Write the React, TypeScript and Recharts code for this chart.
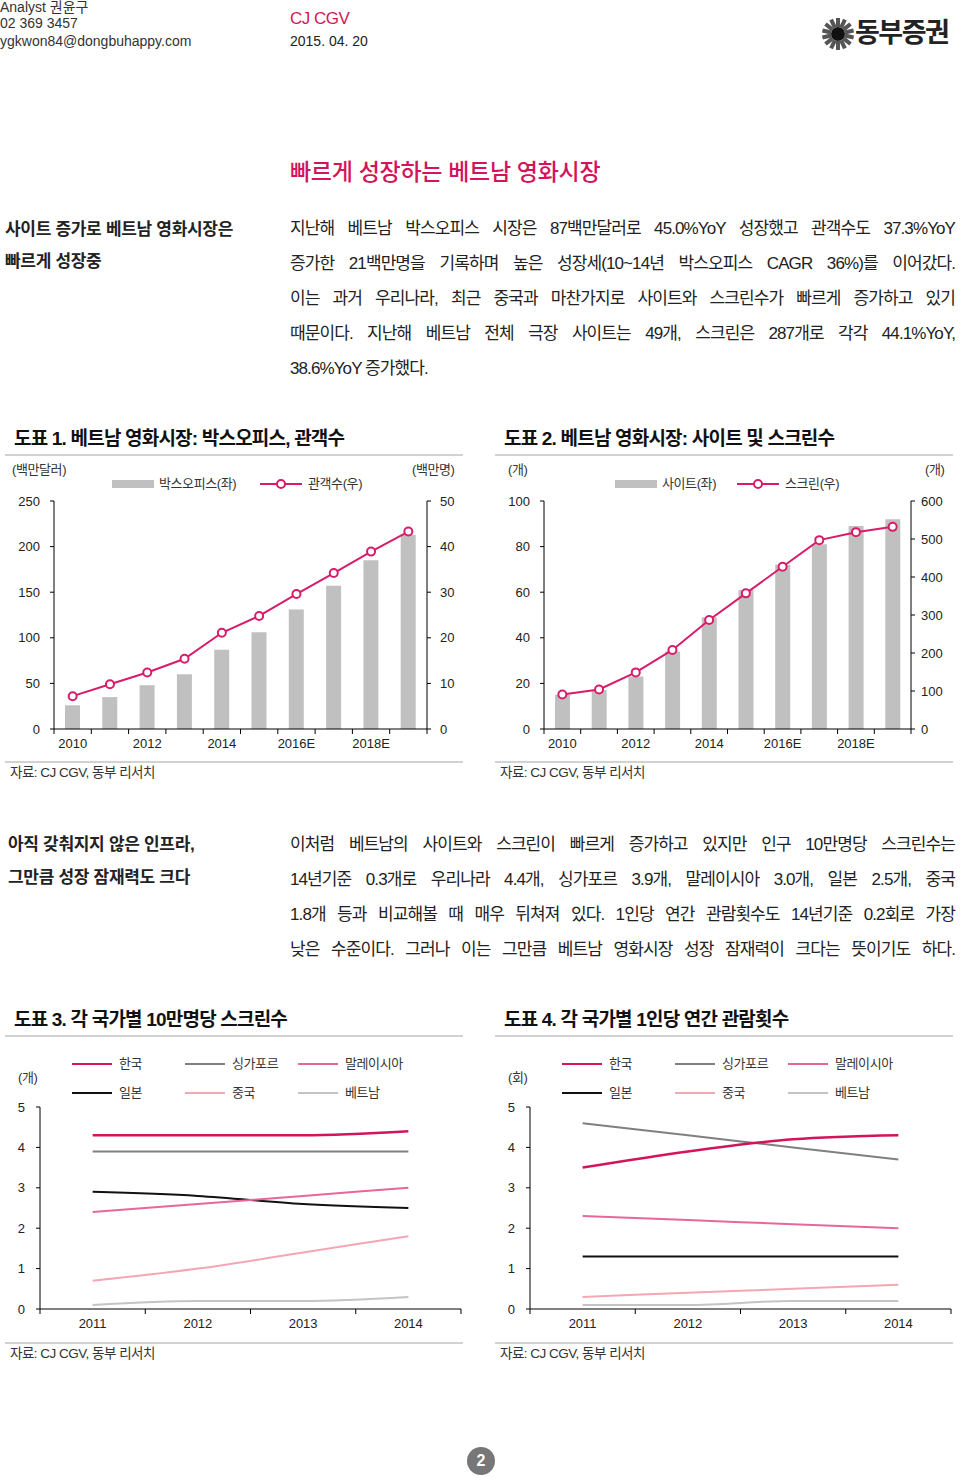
import React from "react";
import { ComposedChart, Bar, Line, XAxis, YAxis } from "recharts";

// 도표 1, 2 (2010 ~ 2019E)
const years10 = ["2010", "2011", "2012", "2013", "2014", "2015", "2016E", "2017E", "2018E", "2019E"];
const boxOffice = [26, 35, 48, 60, 87, 106, 131, 157, 185, 213];
const audience = [7.2, 9.8, 12.4, 15.4, 21.1, 24.8, 29.6, 34.2, 38.9, 43.3];
const sites = [15, 17, 23, 34, 49, 61, 72, 81, 89, 92];
const screens = [91, 104, 149, 208, 287, 357, 427, 497, 518, 532];

// 도표 3, 4 (2011 ~ 2014)
const years4 = ["2011", "2012", "2013", "2014"];
const scrKorea = [4.3, 4.3, 4.3, 4.4];
const scrSingapore = [3.9, 3.9, 3.9, 3.9];
const scrMalaysia = [2.4, 2.6, 2.8, 3.0];
const scrJapan = [2.9, 2.8, 2.6, 2.5];
const scrChina = [0.7, 1.0, 1.4, 1.8];
const scrVietnam = [0.1, 0.2, 0.2, 0.3];

const visKorea = [3.5, 3.9, 4.2, 4.3];
const visSingapore = [4.6, 4.3, 4.0, 3.7];
const visMalaysia = [2.3, 2.2, 2.1, 2.0];
const visJapan = [1.3, 1.3, 1.3, 1.3];
const visChina = [0.3, 0.4, 0.5, 0.6];
const visVietnam = [0.1, 0.1, 0.2, 0.2];

const FONT = "'Liberation Sans', 'Noto Sans CJK KR', sans-serif";
const PINK = "#d4145a";
const LINE_PINK = "#d81b6a";
const BAR_GRAY = "#c0c0c0";

const series = [
  { key: "vn", name: "베트남", color: "#c4c4c4", width: 2 },
  { key: "cn", name: "중국", color: "#f4a6b4", width: 2 },
  { key: "jp", name: "일본", color: "#111111", width: 2 },
  { key: "my", name: "말레이시아", color: "#e8679a", width: 2 },
  { key: "sg", name: "싱가포르", color: "#808080", width: 2 },
  { key: "kr", name: "한국", color: "#d4145a", width: 2.5 },
];
const legendOrder = ["kr", "sg", "my", "jp", "cn", "vn"];

const data1 = years10.map((year, i) => ({ year, boxOffice: boxOffice[i], audience: audience[i] }));
const data2 = years10.map((year, i) => ({ year, sites: sites[i], screens: screens[i] }));
const data3 = years4.map((year, i) => ({
  year, kr: scrKorea[i], sg: scrSingapore[i], my: scrMalaysia[i], jp: scrJapan[i], cn: scrChina[i], vn: scrVietnam[i],
}));
const data4 = years4.map((year, i) => ({
  year, kr: visKorea[i], sg: visSingapore[i], my: visMalaysia[i], jp: visJapan[i], cn: visChina[i], vn: visVietnam[i],
}));

// x tick: label at band centre, tick mark on band borders
function BandTick(props: any) {
  const { x, y, payload, index, count, every, half } = props;
  const off = typeof payload?.offset === "number" && payload.offset > 0 ? payload.offset : half;
  const axisY = y - 10;
  return (
    <g>
      <line x1={x - off} x2={x - off} y1={axisY} y2={axisY + 5} stroke="#000" />
      {index === count - 1 && <line x1={x + off} x2={x + off} y1={axisY} y2={axisY + 5} stroke="#000" />}
      {index % every === 0 && (
        <text x={x} y={y} dy="0.71em" textAnchor="middle" fill="#222" fontSize={13} fontFamily={FONT}>
          {payload.value}
        </text>
      )}
    </g>
  );
}

function Txt({ x, y, size = 16, color = "#222", weight = 400, ls = -1, w, justify, children }: any) {
  const h = Math.round(size * 1.5);
  return (
    <div
      style={{
        position: "absolute",
        left: x,
        top: y - h / 2,
        width: w,
        height: h,
        lineHeight: `${h}px`,
        fontSize: size,
        color,
        fontWeight: weight,
        letterSpacing: ls,
        whiteSpace: justify ? "normal" : "nowrap",
        textAlign: justify ? "justify" : "left",
        textAlignLast: justify ? "justify" : undefined,
      } as any}
    >
      {children}
    </div>
  );
}

function Rule({ x, y, w }: any) {
  return <div style={{ position: "absolute", left: x, top: y, width: w, height: 2, background: "#d2d2d2" }} />;
}

function ChartFrame({ x, y, title }: any) {
  return (
    <>
      <Txt x={x + 9} y={y} size={19} weight={700} ls={-0.8} color="#111">{title}</Txt>
      <Rule x={x} y={y + 16} w={458} />
    </>
  );
}

function Source({ x, y }: any) {
  return (
    <>
      <Rule x={x} y={y - 12} w={458} />
      <Txt x={x + 5} y={y} size={13.5} ls={-0.5} color="#333">자료: CJ CGV, 동부 리서치</Txt>
    </>
  );
}

function BarLegend({ x, barLabel, lineLabel, lineX, lineLabelX }: any) {
  return (
    <>
      <div style={{ position: "absolute", left: x, top: 480, width: 42, height: 8, background: BAR_GRAY }} />
      <Txt x={x + 47} y={484} size={13} ls={-0.4} color="#333">{barLabel}</Txt>
      <svg style={{ position: "absolute", left: lineX, top: 476 }} width={44} height={16}>
        <line x1={0} x2={42} y1={8} y2={8} stroke={LINE_PINK} strokeWidth={2} />
        <circle cx={21} cy={8} r={4} fill="#fff" stroke={LINE_PINK} strokeWidth={2} />
      </svg>
      <Txt x={lineLabelX} y={484} size={13} ls={-0.4} color="#333">{lineLabel}</Txt>
    </>
  );
}

function LineLegend({ x }: any) {
  const cols = [0, 113, 226];
  const rows = [1064, 1093];
  return (
    <>
      {legendOrder.map((k, i) => {
        const s = series.find((d) => d.key === k)!;
        const cx = x + cols[i % 3];
        const cy = rows[Math.floor(i / 3)];
        return (
          <React.Fragment key={k}>
            <div style={{ position: "absolute", left: cx, top: cy - s.width / 2, width: 40, height: s.width, background: s.color }} />
            <Txt x={cx + 47} y={cy} size={13} ls={-0.4} color="#333">{s.name}</Txt>
          </React.Fragment>
        );
      })}
    </>
  );
}

const yTick = { fill: "#222", fontSize: 13, fontFamily: FONT };

function Chart1() {
  return (
    <div style={{ position: "absolute", left: 0, top: 490 }}>
      <ComposedChart width={480} height={269} data={data1} margin={{ top: 11, right: 0, bottom: 0, left: 0 }}>
        <XAxis dataKey="year" interval={0} height={30} stroke="#000" tickLine={false} tickSize={5} tickMargin={5}
          tick={(p: any) => <BandTick {...p} every={2} count={years10.length} half={373 / years10.length / 2} />} />
        <YAxis yAxisId="l" width={54} domain={[0, 250]} ticks={[0, 50, 100, 150, 200, 250]} stroke="#000"
          tickSize={4} tickMargin={10} tick={yTick} />
        <YAxis yAxisId="r" orientation="right" width={53} domain={[0, 50]} ticks={[0, 10, 20, 30, 40, 50]} stroke="#000"
          tickSize={4} tickMargin={9} tick={yTick} />
        <Bar yAxisId="l" dataKey="boxOffice" fill={BAR_GRAY} barSize={15} isAnimationActive={false} />
        <Line yAxisId="r" type="linear" dataKey="audience" stroke={LINE_PINK} strokeWidth={2}
          dot={{ r: 4, fill: "#fff", stroke: LINE_PINK, strokeWidth: 2 }} isAnimationActive={false} />
      </ComposedChart>
    </div>
  );
}

function Chart2() {
  return (
    <div style={{ position: "absolute", left: 490, top: 490 }}>
      <ComposedChart width={470} height={269} data={data2} margin={{ top: 11, right: 0, bottom: 0, left: 0 }}>
        <XAxis dataKey="year" interval={0} height={30} stroke="#000" tickLine={false} tickSize={5} tickMargin={5}
          tick={(p: any) => <BandTick {...p} every={2} count={years10.length} half={367 / years10.length / 2} />} />
        <YAxis yAxisId="l" width={54} domain={[0, 100]} ticks={[0, 20, 40, 60, 80, 100]} stroke="#000"
          tickSize={4} tickMargin={10} tick={yTick} />
        <YAxis yAxisId="r" orientation="right" width={49} domain={[0, 600]} ticks={[0, 100, 200, 300, 400, 500, 600]} stroke="#000"
          tickSize={4} tickMargin={6} tick={yTick} />
        <Bar yAxisId="l" dataKey="sites" fill={BAR_GRAY} barSize={15} isAnimationActive={false} />
        <Line yAxisId="r" type="linear" dataKey="screens" stroke={LINE_PINK} strokeWidth={2}
          dot={{ r: 4, fill: "#fff", stroke: LINE_PINK, strokeWidth: 2 }} isAnimationActive={false} />
      </ComposedChart>
    </div>
  );
}

function CountryChart({ left, data, width, rightMargin }: any) {
  const plotW = width - 40 - rightMargin;
  const half = plotW / years4.length / 2;
  return (
    <div style={{ position: "absolute", left, top: 1095 }}>
      <ComposedChart width={width} height={244} data={data} margin={{ top: 12, right: rightMargin, bottom: 0, left: 0 }}>
        <XAxis dataKey="year" scale="point" padding={{ left: half, right: half }} interval={0} height={30} stroke="#000"
          tickLine={false} tickSize={5} tickMargin={5}
          tick={(p: any) => <BandTick {...p} every={1} count={years4.length} half={half} />} />
        <YAxis width={40} domain={[0, 5]} ticks={[0, 1, 2, 3, 4, 5]} stroke="#000" tickSize={4} tickMargin={11} tick={yTick} />
        {series.map((s) => (
          <Line key={s.key} type="monotone" dataKey={s.key} stroke={s.color} strokeWidth={s.width} dot={false}
            isAnimationActive={false} />
        ))}
      </ComposedChart>
    </div>
  );
}

function Logo() {
  const rays = Array.from({ length: 14 }, (_, i) => i * (360 / 14));
  return (
    <div style={{ position: "absolute", left: 821, top: 17 }}>
      <svg width={34} height={34} style={{ position: "absolute", left: 0, top: 0 }}>
        {rays.map((a) => (
          <rect key={a} x={15} y={1} width={4} height={9} fill="#555" transform={`rotate(${a} 17 17)`} />
        ))}
        <circle cx={17} cy={17} r={7} fill="#111" />
      </svg>
      <div style={{ position: "absolute", left: 34, top: -2, fontSize: 27, fontWeight: 700, color: "#222", letterSpacing: -1.5, whiteSpace: "nowrap", lineHeight: "36px" }}>
        동부증권
      </div>
    </div>
  );
}

const BODY = { size: 17, ls: -0.9 };

export default function App() {
  return (
    <div style={{ position: "absolute", left: 0, top: 0, width: 960, height: 1478, background: "#fff", fontFamily: FONT, overflow: "hidden" }}>
      {/* header */}
      <Txt x={0} y={7} size={14} ls={0} color="#333">Analyst 권윤구</Txt>
      <Txt x={0} y={23} size={14} ls={0} color="#333">02 369 3457</Txt>
      <Txt x={0} y={41} size={14} ls={0} color="#333">ygkwon84@dongbuhappy.com</Txt>
      <Txt x={290} y={19} size={17} ls={-0.5} color={PINK}>CJ CGV</Txt>
      <Txt x={290} y={41} size={14} ls={0} color="#222">2015. 04. 20</Txt>
      <Logo />

      <Txt x={290} y={172} size={23} weight={500} ls={-0.3} color={PINK}>빠르게 성장하는 베트남 영화시장</Txt>

      <Txt x={5} y={230} size={17} weight={700} ls={-0.3}>사이트 증가로 베트남 영화시장은</Txt>
      <Txt x={5} y={262} size={17} weight={700} ls={-0.3}>빠르게 성장중</Txt>

      <Txt x={290} y={229} w={665} justify {...BODY}>지난해 베트남 박스오피스 시장은 87백만달러로 45.0%YoY 성장했고 관객수도 37.3%YoY</Txt>
      <Txt x={290} y={264} w={665} justify {...BODY}>증가한 21백만명을 기록하며 높은 성장세(10~14년 박스오피스 CAGR 36%)를 이어갔다.</Txt>
      <Txt x={290} y={299} w={665} justify {...BODY}>이는 과거 우리나라, 최근 중국과 마찬가지로 사이트와 스크린수가 빠르게 증가하고 있기</Txt>
      <Txt x={290} y={334} w={665} justify {...BODY}>때문이다. 지난해 베트남 전체 극장 사이트는 49개, 스크린은 287개로 각각 44.1%YoY,</Txt>
      <Txt x={290} y={369} {...BODY}>38.6%YoY 증가했다.</Txt>

      {/* 도표 1 */}
      <ChartFrame x={5} y={438} title="도표 1. 베트남 영화시장: 박스오피스, 관객수" />
      <Txt x={12} y={470} size={13} ls={-0.4} color="#333">(백만달러)</Txt>
      <Txt x={412} y={470} size={13} ls={-0.4} color="#333">(백만명)</Txt>
      <BarLegend x={112} barLabel="박스오피스(좌)" lineLabel="관객수(우)" lineX={260} lineLabelX={308} />
      <Chart1 />
      <Source x={5} y={773} />

      {/* 도표 2 */}
      <ChartFrame x={495} y={438} title="도표 2. 베트남 영화시장: 사이트 및 스크린수" />
      <Txt x={508} y={470} size={13} ls={-0.4} color="#333">(개)</Txt>
      <Txt x={925} y={470} size={13} ls={-0.4} color="#333">(개)</Txt>
      <BarLegend x={615} barLabel="사이트(좌)" lineLabel="스크린(우)" lineX={737} lineLabelX={785} />
      <Chart2 />
      <Source x={495} y={773} />

      {/* 본문 2 */}
      <Txt x={8} y={845} size={17} weight={700} ls={-0.3}>아직 갖춰지지 않은 인프라,</Txt>
      <Txt x={8} y={878} size={17} weight={700} ls={-0.3}>그만큼 성장 잠재력도 크다</Txt>
      <Txt x={290} y={845} w={665} justify {...BODY}>이처럼 베트남의 사이트와 스크린이 빠르게 증가하고 있지만 인구 10만명당 스크린수는</Txt>
      <Txt x={290} y={880} w={665} justify {...BODY}>14년기준 0.3개로 우리나라 4.4개, 싱가포르 3.9개, 말레이시아 3.0개, 일본 2.5개, 중국</Txt>
      <Txt x={290} y={915} w={665} justify {...BODY}>1.8개 등과 비교해볼 때 매우 뒤쳐져 있다. 1인당 연간 관람횟수도 14년기준 0.2회로 가장</Txt>
      <Txt x={290} y={950} w={665} justify {...BODY}>낮은 수준이다. 그러나 이는 그만큼 베트남 영화시장 성장 잠재력이 크다는 뜻이기도 하다.</Txt>

      {/* 도표 3 */}
      <ChartFrame x={5} y={1019} title="도표 3. 각 국가별 10만명당 스크린수" />
      <Txt x={18} y={1078} size={13} ls={-0.4} color="#333">(개)</Txt>
      <LineLegend x={72} />
      <CountryChart left={0} data={data3} width={480} rightMargin={19} />
      <Source x={5} y={1354} />

      {/* 도표 4 */}
      <ChartFrame x={495} y={1019} title="도표 4. 각 국가별 1인당 연간 관람횟수" />
      <Txt x={508} y={1078} size={13} ls={-0.4} color="#333">(회)</Txt>
      <LineLegend x={562} />
      <CountryChart left={490} data={data4} width={470} rightMargin={9} />
      <Source x={495} y={1354} />

      {/* page number */}
      <div style={{ position: "absolute", left: 467, top: 1447, width: 28, height: 28, borderRadius: 14, background: "#777", color: "#fff", fontWeight: 700, fontSize: 16, textAlign: "center", lineHeight: "28px" }}>
        2
      </div>
    </div>
  );
}
